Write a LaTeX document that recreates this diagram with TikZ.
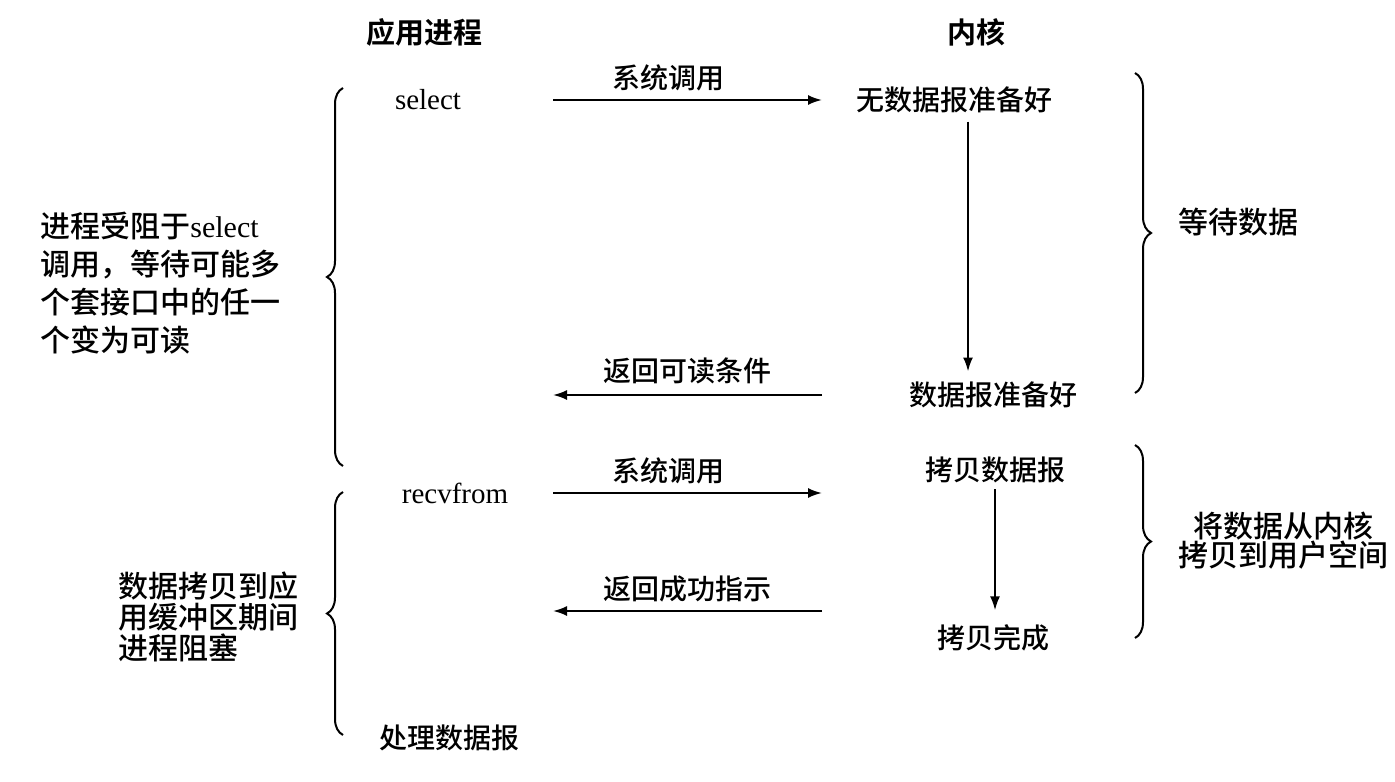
\documentclass[tikz,border=0pt]{standalone}
\usepackage{fontspec}
\setmainfont{Liberation Serif}
\newfontfamily\cjk{Noto Sans CJK SC Medium}[BoldFont={Noto Sans CJK SC Bold}]
\usetikzlibrary{arrows.meta,calc,decorations.pathreplacing}

\begin{document}
\begin{tikzpicture}[
    x=0.5pt, y=-0.5pt,
    every node/.style={inner sep=2pt, font=\fontsize{14}{19}\selectfont\cjk},
    head/.style={font=\fontsize{14.5}{19}\selectfont\cjk\bfseries},
    latin/.style={font=\fontsize{14.5}{19}\selectfont\rmfamily},
    note/.style={font=\fontsize{15}{19}\selectfont\cjk, align=left, anchor=west},
    msg/.style={-{Latex[length=7pt,width=5pt]}, line width=1pt},
    curly/.style={decorate, decoration={brace, amplitude=8pt}, line width=1pt}
]
\useasboundingbox (0,0) rectangle (1395,781);

% Headings
\node[head] (app) at (424,32) {应用进程};
\node[head] (kernel) at (976,32) {内核};

\coordinate (colL) at (553,0);
\coordinate (colR) at (822,0);
\coordinate (colK) at (968,0);
\coordinate (rowR2) at (0,611);

% select
\node[latin] (sel) at (428,100) {select};
\node (nodata) at (954,100) {无数据报准备好};
\node (ready) at (993,395) {数据报准备好};
\draw[msg] (sel -| colL) -- (sel -| colR) node[pos=0.43, above=2pt] {系统调用};
\draw[msg, shorten <=2pt, shorten >=3pt] (nodata.south -| colK) -- (ready.north -| colK);
\draw[msg] (ready -| colR) -- (ready -| colL) node[midway, above=3pt] {返回可读条件};

% recvfrom
\node[latin] (recv) at (455,493) {recvfrom};
\node (copy) at (995,470) {拷贝数据报};
\node (done) at (993,638) {拷贝完成};
\draw[msg] (recv -| colL) -- (recv -| colR) node[pos=0.43, above=2pt] {系统调用};
\draw[msg, shorten <=1pt, shorten >=5pt] (copy.south) -- (copy.south |- done.north);
\draw[msg] (rowR2 -| colR) -- (rowR2 -| colL) node[midway, above=2pt] {返回成功指示};
\node (proc) at (449,738) {处理数据报};

% Braces and notes
\draw[curly] (343,466) -- (343,88);
\draw[curly] (343,735) -- (343,492);
\draw[curly] (1135,73) -- (1135,393);
\draw[curly] (1135,445) -- (1135,638);

\node[note] (blocked) at (36,283) {进程受阻于{\rmfamily select}\\调用，等待可能多\\个套接口中的任一\\个变为可读};
\node[note, font=\fontsize{15}{15.5}\selectfont\cjk] (copying) at (114,617) {数据拷贝到应\\用缓冲区期间\\进程阻塞};
\node[note] (wait) at (1174,222) {等待数据};
\node[note, align=center, anchor=center, font=\fontsize{15}{14.5}\selectfont\cjk] (copyout) at (1283,541) {将数据从内核\\拷贝到用户空间};
\end{tikzpicture}
\end{document}
